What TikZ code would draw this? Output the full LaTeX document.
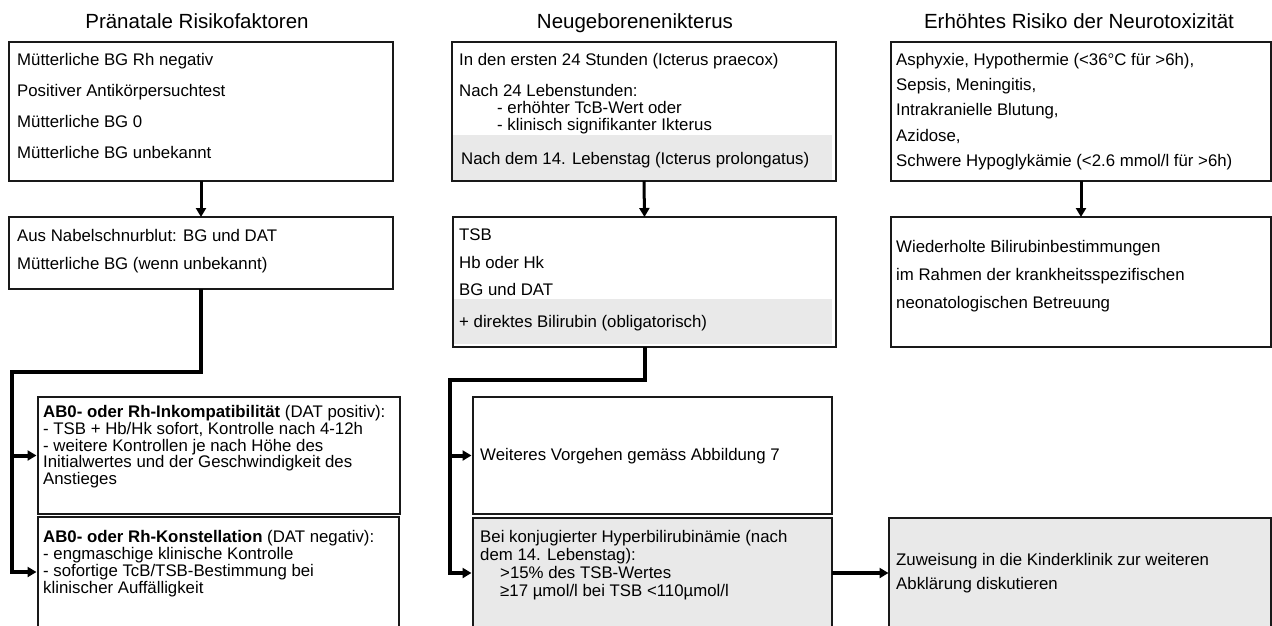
\documentclass[tikz,border=0pt]{standalone}
\usepackage{fontspec}
\setmainfont{Liberation Sans}
\usetikzlibrary{arrows.meta}
\definecolor{bandgray}{HTML}{E9E9E9}
\newcommand{\bodyfont}{\fontsize{16.8}{18}\selectfont}
\newcommand{\titlefont}{\fontsize{20.5}{24}\selectfont}
\begin{document}
\begin{tikzpicture}[x=1pt,y=-1pt,
 box/.style={draw=black!90, line width=1.1pt, rectangle, anchor=north west, inner sep=0pt, outer sep=0pt},
 gbox/.style={box, fill=bandgray},
 txt/.style={anchor=base west, inner sep=0pt, font=\bodyfont},
 ttl/.style={anchor=base, inner sep=0pt, font=\titlefont},
 arr/.style={line width=3pt, -{Triangle[length=9pt,width=10pt]}},
 conna/.style={line width=4pt, -{Triangle[length=9pt,width=10pt]}, shorten >=1.5pt}
]
\useasboundingbox (0,0) rectangle (1272,625);
\clip (0,0) rectangle (1272,625);
\fill[white] (0,0) rectangle (1272,625);

% titles
\node[ttl] (t1) at (197,28.3) {Pränatale Risikofaktoren};
\node[ttl] (t2) at (635,28.3) {Neugeborenenikterus};
\node[ttl] (t3) at (1079,28.3) {Erhöhtes Risiko der Neurotoxizität};

% gray bands
\fill[bandgray] (453,135) rectangle (832,180);
\fill[bandgray] (454,299) rectangle (832,344);

% boxes
\node[box, minimum width=384pt, minimum height=139pt] (A1) at (9,42) {};
\node[box, minimum width=384pt, minimum height=72pt] (A2) at (9,217) {};
\node[box, minimum width=362pt, minimum height=117pt] (B1) at (38,397) {};
\node[box, minimum width=361pt, minimum height=110pt] (B2) at (38,517) {};
\node[box, minimum width=384pt, minimum height=139pt] (C1) at (452,42) {};
\node[box, minimum width=383pt, minimum height=130pt] (C2) at (453,217) {};
\node[box, minimum width=359pt, minimum height=117pt] (D1) at (473,397) {};
\node[gbox, minimum width=359pt, minimum height=110pt] (D2) at (473,518) {};
\node[gbox, minimum width=382pt, minimum height=110pt] (E) at (889,518) {};
\node[box, minimum width=380pt, minimum height=139pt] (F1) at (891,42) {};
\node[box, minimum width=380pt, minimum height=130pt] (F2) at (891,217) {};

% texts A
\node[txt] (a11) at (17,65.5) {Mütterliche BG Rh negativ};
\node[txt] (a12) at (17,96.5) {Positiver Antikörpersuchtest};
\node[txt] (a13) at (17,127.5) {Mütterliche BG 0};
\node[txt] (a14) at (17,158.5) {Mütterliche BG unbekannt};
\node[txt] (a21) at (17,241) {Aus Nabelschnurblut: BG und DAT};
\node[txt] (a22) at (17,269) {Mütterliche BG (wenn unbekannt)};
% texts B
\node[txt] (b11) at (43,417) {\textbf{AB0- oder Rh-Inkompatibilität} (DAT positiv):};
\node[txt] (b12) at (43,434) {- TSB + Hb/Hk sofort, Kontrolle nach 4-12h};
\node[txt] (b13) at (43,451) {- weitere Kontrollen je nach Höhe des};
\node[txt] (b14) at (43,467.5) {Initialwertes und der Geschwindigkeit des};
\node[txt] (b15) at (43,484.5) {Anstieges};
\node[txt] (b21) at (43,542) {\textbf{AB0- oder Rh-Konstellation} (DAT negativ):};
\node[txt] (b22) at (43,559) {- engmaschige klinische Kontrolle};
\node[txt] (b23) at (43,576) {- sofortige TcB/TSB-Bestimmung bei};
\node[txt] (b24) at (43,593) {klinischer Auffälligkeit};
% texts C
\node[txt] (c11) at (459,65.5) {In den ersten 24 Stunden (Icterus praecox)};
\node[txt] (c12) at (459,96.5) {Nach 24 Lebenstunden:};
\node[txt] (c13) at (497,113.5) {- erhöhter TcB-Wert oder};
\node[txt] (c14) at (497,130.5) {- klinisch signifikanter Ikterus};
\node[txt] (c15) at (461,164) {Nach dem 14. Lebenstag (Icterus prolongatus)};
\node[txt] (c21) at (459,240) {TSB};
\node[txt] (c22) at (459,268) {Hb oder Hk};
\node[txt] (c23) at (459,295) {BG und DAT};
\node[txt] (c24) at (459,327.5) {+ direktes Bilirubin (obligatorisch)};
% texts D
\node[txt] (d11) at (480,460) {Weiteres Vorgehen gemäss Abbildung 7};
\node[txt] (d21) at (480,542) {Bei konjugierter Hyperbilirubinämie (nach};
\node[txt] (d22) at (480,560) {dem 14. Lebenstag):};
\node[txt] (d23) at (500,578) {>15\% des TSB-Wertes};
\node[txt] (d24) at (500,596) {≥17 µmol/l bei TSB <110µmol/l};
% texts E
\node[txt] (e1) at (896,565) {Zuweisung in die Kinderklinik zur weiteren};
\node[txt] (e2) at (896,589) {Abklärung diskutieren};
% texts F
\node[txt] (f11) at (896,65.5) {Asphyxie, Hypothermie (<36°C für >6h),};
\node[txt] (f12) at (896,90.7) {Sepsis, Meningitis,};
\node[txt] (f13) at (896,115.9) {Intrakranielle Blutung,};
\node[txt] (f14) at (896,141.1) {Azidose,};
\node[txt] (f15) at (896,166.3) {Schwere Hypoglykämie (<2.6 mmol/l für >6h)};
\node[txt] (f21) at (896,252) {Wiederholte Bilirubinbestimmungen};
\node[txt] (f22) at (896,280) {im Rahmen der krankheitsspezifischen};
\node[txt] (f23) at (896,308) {neonatologischen Betreuung};

% connectors
\draw[arr] (A1.south) -- (A2.north);
\draw[arr] (C1.south) -- (C2.north);
\draw[arr] (F1.south) -- (F2.north);

\coordinate (aj) at (12,372);
\draw[conna] (A2.south) |- (aj) |- (B2.west);
\draw[conna] (aj |- B1.west) -- (B1.west);

\coordinate (cj) at (450,380);
\draw[conna] (C2.south) |- (cj) |- (D2.west);
\draw[conna] (cj |- D1.west) -- (D1.west);

\draw[conna, shorten >=0.5pt] (D2.east) -- (E.west);
\end{tikzpicture}
\end{document}
